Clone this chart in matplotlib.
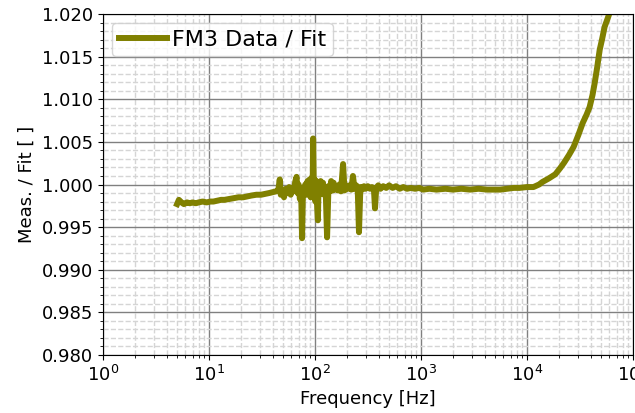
import matplotlib
matplotlib.use("Agg")
import matplotlib.pyplot as plt
from matplotlib.ticker import MultipleLocator, FormatStrFormatter

freq = [5.0, 5.2, 5.5, 5.8, 6.2, 6.6, 7.0, 7.5, 8.0, 8.7, 9.5, 10.3, 11, 12, 13, 14,
        15.5, 17, 19, 21, 23, 25, 28, 31, 34, 37, 40, 43, 45, 46.5, 47.5, 49, 51, 53,
        55, 57, 59, 61, 63, 65, 67, 68.5, 70, 72, 74, 75.5, 77, 79, 81, 83, 85, 87,
        89, 91, 93, 95, 96, 97.5, 99, 101, 103, 105, 106.5, 108, 110, 113, 116, 119,
        122, 126, 130, 134, 138, 142, 146, 150, 155, 160, 165, 170, 176, 184, 190,
        196, 204, 212, 220, 228, 236, 245, 253, 260, 268, 278, 290, 300, 315, 330,
        345, 360, 368, 378, 395, 415, 440, 470, 500, 540, 580, 630, 680, 740, 800,
        880, 960, 1050, 1200, 1400, 1700, 2000, 2400, 2900, 3500, 4200, 5000, 5600,
        6500, 7500, 8500, 10000, 11500, 13000, 14000, 16000, 18500, 20500, 22500,
        25000, 27500, 30500, 33500, 36500, 39000, 41500, 43500, 46000, 48500, 51000,
        54000, 57000, 60000, 63000, 66000]

ratio = [0.9977, 0.9982, 0.9979, 0.9977, 0.9979, 0.9978, 0.9979, 0.9978, 0.9979,
         0.9980, 0.9979, 0.9980, 0.9980, 0.9981, 0.9982, 0.9982, 0.9983, 0.9984,
         0.9985, 0.9985, 0.9986, 0.9987, 0.9988, 0.9988, 0.9989, 0.9990, 0.9991,
         0.9992, 0.9993, 1.0006, 0.9988, 0.9993, 0.9985, 0.9995, 0.9990, 0.9997,
         0.9988, 0.9995, 0.9992, 1.0003, 1.0009, 0.9990, 1.0000, 0.9983, 0.9995,
         0.9937, 0.9996, 0.9990, 1.0000, 0.9988, 1.0004, 0.9992, 1.0006, 0.9985,
         1.0008, 0.9990, 1.0054, 0.9992, 1.0006, 0.9980, 1.0004, 0.9972, 0.9958,
         1.0000, 0.9988, 1.0004, 0.9990, 1.0002, 0.9988, 0.9995, 0.9938, 0.9998,
         0.9992, 1.0004, 0.9993, 1.0002, 0.9994, 0.9998, 0.9993, 1.0000, 0.9992,
         1.0024, 0.9993, 0.9999, 0.9995, 0.9999, 0.9994, 1.0010, 0.9995, 0.9999,
         0.9994, 0.9944, 0.9997, 0.9994, 0.9998, 0.9995, 0.9998, 0.9995, 0.9997,
         0.9994, 0.9972, 0.9996, 0.9999, 0.9995, 0.9998, 0.9996, 0.9999, 0.9996,
         0.9998, 0.9995, 0.9997, 0.9995, 0.9996, 0.9995, 0.9996, 0.9994, 0.9995,
         0.9994, 0.9995, 0.9994, 0.9995, 0.9994, 0.9995, 0.9994, 0.9994, 0.9994,
         0.9995, 0.9996, 0.9996, 0.9997, 0.9997, 1.0000, 1.0003, 1.0007, 1.0012,
         1.0019, 1.0026, 1.0035, 1.0044, 1.0058, 1.0072, 1.0082, 1.0091, 1.0105,
         1.0119, 1.0138, 1.0158, 1.0170, 1.0185, 1.0193, 1.0201, 1.0215, 1.0228]

label = "FM3 Data / Fit"

fig = plt.figure(figsize=(6.35, 4.13), dpi=100)
ax = fig.add_axes([103/635, 1-355/413, 530/635, 341/413])
ax.semilogx(freq, ratio, color="#808000", lw=4.3, label=label)
ax.set_xlim(1, 1e5)
ax.set_ylim(0.98, 1.02)
ax.yaxis.set_major_locator(MultipleLocator(0.005))
ax.yaxis.set_minor_locator(MultipleLocator(0.001))
ax.yaxis.set_major_formatter(FormatStrFormatter("%.3f"))
ax.grid(True, which="major", color="#808080", lw=1.0, ls="-")
ax.grid(True, which="minor", color="#d5d5d5", lw=1.0, ls="--")
ax.tick_params(labelsize=13)
ax.set_xlabel("Frequency [Hz]", fontsize=13)
ax.set_ylabel("Meas. / Fit [ ]", fontsize=13)
ax.legend(loc="upper left", fontsize=16, handlelength=2.2, borderpad=0.3,
          handletextpad=0.2, borderaxespad=0.4)
fig.savefig("out.png", dpi=100)
